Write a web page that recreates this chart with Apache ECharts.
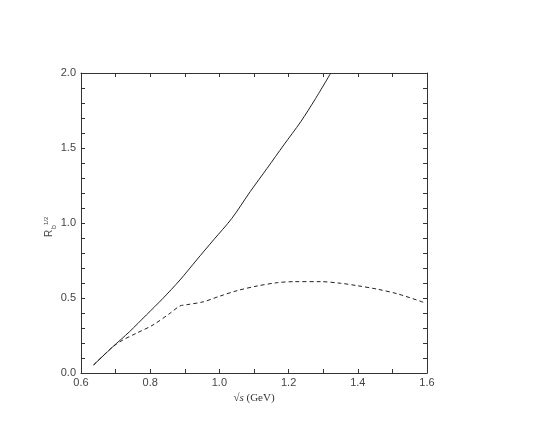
<html>
<head>
<meta charset="UTF-8" />
<title></title>
<script src="https://cdn.jsdelivr.net/npm/echarts@6/dist/echarts.min.js"></script>
<style>
body{margin:0;background:#fff;}
#main{width:545px;height:436px;}
</style>
</head>
<body>
<div id="main"></div>
<script type="text/javascript">
// sqrt(s) in GeV
var solidX = [0.636, 0.692, 0.740, 0.789, 0.837, 0.886, 0.934, 0.983, 1.036, 1.089, 1.138, 1.186, 1.235, 1.278, 1.322];
var solidY = [0.053, 0.175, 0.275, 0.387, 0.498, 0.620, 0.753, 0.887, 1.031, 1.209, 1.365, 1.520, 1.675, 1.830, 2.000];
var dashX = [0.636, 0.692, 0.721, 0.760, 0.808, 0.857, 0.886, 0.905, 0.954, 1.002, 1.051, 1.109, 1.167, 1.215, 1.293, 1.351, 1.399, 1.458, 1.516, 1.593];
var dashY = [0.053, 0.175, 0.220, 0.265, 0.320, 0.398, 0.447, 0.455, 0.475, 0.513, 0.549, 0.580, 0.602, 0.609, 0.609, 0.598, 0.582, 0.558, 0.527, 0.469];
var xTicks = ['0.6', '0.8', '1.0', '1.2', '1.4', '1.6'];
var yTicks = ['0.0', '0.5', '1.0', '1.5', '2.0'];

function pairs(xs, ys) {
  return xs.map(function (x, i) { return [x, ys[i]]; });
}

var lineCol = '#333';
var labelFont = { color: '#444', fontSize: 11, fontFamily: 'Liberation Sans, Arial, sans-serif' };

function xAx(pos, showLabel) {
  return {
    type: 'value', position: pos, min: 0.6, max: 1.6, interval: 0.2,
    axisLine: { show: true, onZero: false, lineStyle: { color: lineCol, width: 1 } },
    axisTick: { show: true, inside: true, length: 4, lineStyle: { color: lineCol } },
    minorTick: { show: true, splitNumber: 2, length: 4, lineStyle: { color: lineCol } },
    splitLine: { show: false },
    axisLabel: {
      show: showLabel, margin: 4, color: labelFont.color, fontSize: labelFont.fontSize,
      fontFamily: labelFont.fontFamily,
      formatter: function (v) { return xTicks[Math.round((v - 0.6) / 0.2)]; }
    }
  };
}
function yAx(pos, showLabel) {
  return {
    type: 'value', position: pos, min: 0, max: 2.0, interval: 0.5,
    axisLine: { show: true, onZero: false, lineStyle: { color: lineCol, width: 1 } },
    axisTick: { show: true, inside: true, length: 4, lineStyle: { color: lineCol } },
    minorTick: { show: true, splitNumber: 5, length: 4, lineStyle: { color: lineCol } },
    splitLine: { show: false },
    axisLabel: {
      show: showLabel, margin: 5, color: labelFont.color, fontSize: labelFont.fontSize,
      fontFamily: labelFont.fontFamily,
      formatter: function (v) { return yTicks[Math.round(v / 0.5)]; }
    }
  };
}

var myChart = echarts.init(document.getElementById('main'));
myChart.setOption({
  animation: false,
  backgroundColor: '#fff',
  grid: { left: 81, right: 118, top: 73, bottom: 63 },
  xAxis: [
    Object.assign(xAx('bottom', true), {
      name: '{r|√}{i|s} (GeV)', nameLocation: 'middle', nameGap: 17,
      nameTextStyle: {
        color: '#333', fontSize: 11, fontFamily: 'Liberation Serif, serif',
        rich: {
          r: { fontSize: 11, fontFamily: 'Liberation Serif, serif', color: '#333' },
          i: { fontSize: 11, fontStyle: 'italic', fontFamily: 'Liberation Serif, serif', color: '#333' }
        }
      }
    }),
    xAx('top', false)
  ],
  yAxis: [yAx('left', true), yAx('right', false)],
  graphic: [
    { type: 'text', x: 44, y: 237, rotation: Math.PI / 2,
      style: { text: 'R', fontSize: 10, fontFamily: 'Liberation Sans, sans-serif', fill: '#444' } },
    { type: 'text', x: 51, y: 229, rotation: Math.PI / 2,
      style: { text: 'b', fontSize: 7, fontFamily: 'Liberation Sans, sans-serif', fill: '#444' } },
    { type: 'text', x: 43, y: 225, rotation: Math.PI / 2,
      style: { text: '1/2', fontSize: 6, fontFamily: 'Liberation Sans, sans-serif', fill: '#444' } }
  ],
  series: [
    {
      type: 'line', data: pairs(solidX, solidY), showSymbol: false, smooth: 0.3,
      lineStyle: { color: '#222', width: 1 }, clip: true
    },
    {
      type: 'line', data: pairs(dashX, dashY), showSymbol: false, smooth: 0.3,
      lineStyle: { color: '#222', width: 1, type: [4, 3] }, clip: true
    }
  ]
});
</script>
</body>
</html>
